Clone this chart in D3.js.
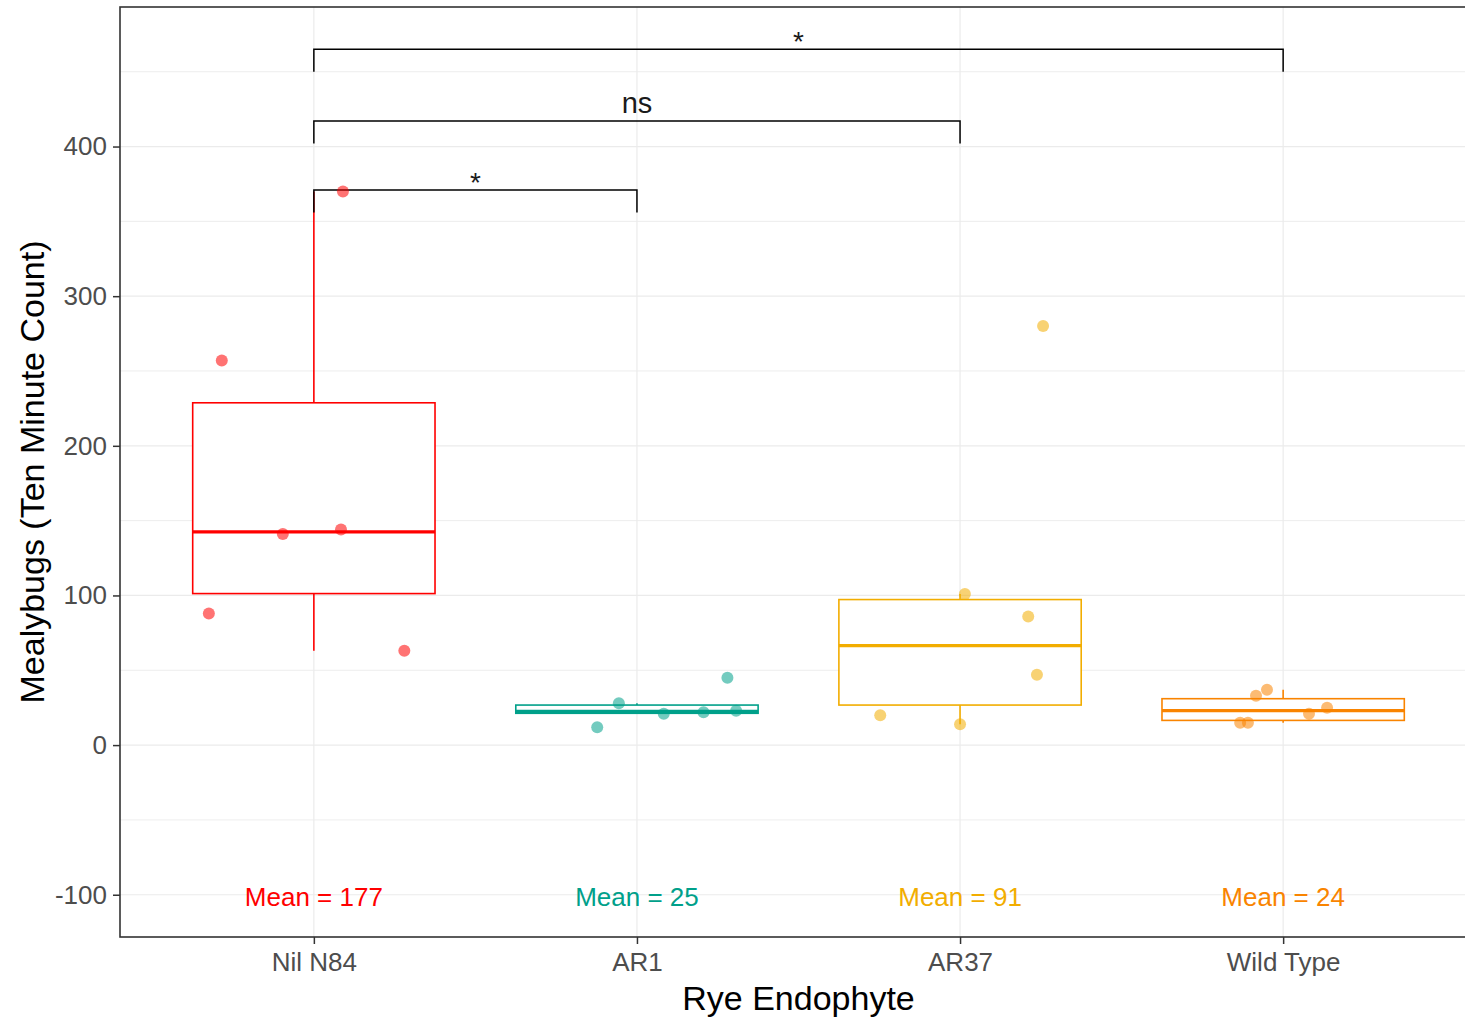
<!DOCTYPE html>
<html>
<head>
<meta charset="utf-8">
<script src="https://cdn.jsdelivr.net/npm/d3@7"></script>
<style>
  body { margin: 0; background: #fff; }
  text { font-family: "Liberation Sans", Arial, sans-serif; }
</style>
</head>
<body>
<div id="chart"></div>
<script>
// groups on the x axis
const categories = ["Nil N84", "AR1", "AR37", "Wild Type"];
const colors = ["#FF0000", "#00A08A", "#F2AD00", "#F98400"];

// counts per plant and their horizontal jitter (in category units)
const nilN84 = [63, 88, 141, 144, 257, 370];
const nilN84Jitter = [0.28, -0.325, -0.096, 0.084, -0.285, 0.09];
const ar1 = [12, 21, 22, 23, 28, 45];
const ar1Jitter = [-0.123, 0.083, 0.206, 0.307, -0.056, 0.28];
const ar37 = [14, 20, 47, 86, 101, 280];
const ar37Jitter = [0.0, -0.247, 0.238, 0.211, 0.015, 0.257];
const wildType = [15, 15, 21, 25, 33, 37];
const wildTypeJitter = [-0.133, -0.109, 0.08, 0.136, -0.084, -0.05];

const yTicks = [-100, 0, 100, 200, 300, 400];
const yMinor = [-50, 50, 150, 250, 350, 450];

// significance brackets
const comparisons = [["Nil N84", "AR1"], ["Nil N84", "AR37"], ["Nil N84", "Wild Type"]];
const bracketY = [371, 417, 465];
const bracketLabels = ["*", "ns", "*"];
const tipLength = 15;
const meanLabelY = -100;

const groups = [nilN84, ar1, ar37, wildType];
const jitters = [nilN84Jitter, ar1Jitter, ar37Jitter, wildTypeJitter];

const width = 1465, height = 1018;
const panel = { left: 120, top: 7, right: 1477, bottom: 937 };

const svg = d3.select("#chart").append("svg")
  .attr("width", width)
  .attr("height", height);

const x = d3.scalePoint()
  .domain(categories)
  .range([panel.left, panel.right])
  .padding(0.6);

const y = d3.scaleLinear()
  .domain([-128.25, 493.25])
  .range([panel.bottom, panel.top]);

const step = x.step();
const boxWidth = step * 0.75;

// grid
const grid = svg.append("g");
grid.selectAll(".minor").data(yMinor).enter().append("line")
  .attr("x1", panel.left).attr("x2", panel.right)
  .attr("y1", d => y(d)).attr("y2", d => y(d))
  .attr("stroke", "#EBEBEB").attr("stroke-width", 0.9);
grid.selectAll(".major").data(yTicks).enter().append("line")
  .attr("x1", panel.left).attr("x2", panel.right)
  .attr("y1", d => y(d)).attr("y2", d => y(d))
  .attr("stroke", "#EBEBEB").attr("stroke-width", 1.2);
grid.selectAll(".vert").data(categories).enter().append("line")
  .attr("x1", d => x(d)).attr("x2", d => x(d))
  .attr("y1", panel.top).attr("y2", panel.bottom)
  .attr("stroke", "#EBEBEB").attr("stroke-width", 1.2);

// boxplot stats
function boxStats(values) {
  const s = values.slice().sort(d3.ascending);
  const q1 = d3.quantileSorted(s, 0.25);
  const med = d3.quantileSorted(s, 0.5);
  const q3 = d3.quantileSorted(s, 0.75);
  const iqr = q3 - q1;
  const lo = d3.min(s.filter(v => v >= q1 - 1.5 * iqr));
  const hi = d3.max(s.filter(v => v <= q3 + 1.5 * iqr));
  return { q1, med, q3, lo, hi };
}

const boxes = svg.append("g");
categories.forEach((cat, i) => {
  const st = boxStats(groups[i]);
  const cx = x(cat);
  const g = boxes.append("g").attr("stroke", colors[i]).attr("fill", "none");
  g.append("line")
    .attr("x1", cx).attr("x2", cx)
    .attr("y1", y(st.q3)).attr("y2", y(st.hi))
    .attr("stroke-width", 1.6);
  g.append("line")
    .attr("x1", cx).attr("x2", cx)
    .attr("y1", y(st.q1)).attr("y2", y(st.lo))
    .attr("stroke-width", 1.6);
  g.append("rect")
    .attr("x", cx - boxWidth / 2)
    .attr("y", y(st.q3))
    .attr("width", boxWidth)
    .attr("height", y(st.q1) - y(st.q3))
    .attr("fill", "#fff")
    .attr("stroke-width", 1.6);
  g.append("line")
    .attr("x1", cx - boxWidth / 2).attr("x2", cx + boxWidth / 2)
    .attr("y1", y(st.med)).attr("y2", y(st.med))
    .attr("stroke-width", 3.2);
});

// brackets
const brackets = svg.append("g");
comparisons.forEach((pair, i) => {
  const x1 = x(pair[0]), x2 = x(pair[1]);
  const yTop = y(bracketY[i]), yTip = y(bracketY[i] - tipLength);
  brackets.append("path")
    .attr("d", `M${x1},${yTip}V${yTop}H${x2}V${yTip}`)
    .attr("fill", "none")
    .attr("stroke", "#000")
    .attr("stroke-width", 1.5);
  const isStar = bracketLabels[i] === "*";
  brackets.append("text")
    .attr("x", (x1 + x2) / 2)
    .attr("y", yTop)
    .attr("dy", isStar ? 2 : -8)
    .attr("text-anchor", "middle")
    .attr("font-size", isStar ? 28 : 29)
    .attr("fill", "#1a1a1a")
    .text(bracketLabels[i]);
});

// jittered points
const pts = svg.append("g");
categories.forEach((cat, i) => {
  pts.selectAll(null).data(groups[i]).enter().append("circle")
    .attr("cx", (d, j) => x(cat) + jitters[i][j] * step)
    .attr("cy", d => y(d))
    .attr("r", 6)
    .attr("fill", colors[i])
    .attr("fill-opacity", 0.55);
});

// mean labels
svg.append("g").selectAll("text").data(categories).enter().append("text")
  .attr("x", d => x(d))
  .attr("y", y(meanLabelY))
  .attr("dy", "0.42em")
  .attr("text-anchor", "middle")
  .attr("font-size", 26)
  .attr("fill", (d, i) => colors[i])
  .text((d, i) => "Mean = " + Math.round(d3.mean(groups[i])));

// axes
const yAxis = svg.append("g")
  .attr("transform", `translate(${panel.left},0)`)
  .call(d3.axisLeft(y).tickValues(yTicks).tickFormat(d => String(d))
    .tickSize(7).tickPadding(6).tickSizeOuter(0));
yAxis.select(".domain").remove();
yAxis.selectAll(".tick line").attr("stroke", "#333").attr("stroke-width", 1.5);
yAxis.selectAll(".tick text").attr("font-size", 26).attr("fill", "#4D4D4D")
  .style("font-family", '"Liberation Sans", Arial, sans-serif');

const xAxis = svg.append("g")
  .attr("transform", `translate(0,${panel.bottom})`)
  .call(d3.axisBottom(x).tickSize(7).tickPadding(9).tickSizeOuter(0));
xAxis.select(".domain").remove();
xAxis.selectAll(".tick line").attr("stroke", "#333").attr("stroke-width", 1.5);
xAxis.selectAll(".tick text").attr("font-size", 26).attr("fill", "#4D4D4D")
  .style("font-family", '"Liberation Sans", Arial, sans-serif');

// panel border
svg.append("rect")
  .attr("x", panel.left).attr("y", panel.top)
  .attr("width", panel.right - panel.left)
  .attr("height", panel.bottom - panel.top)
  .attr("fill", "none")
  .attr("stroke", "#333")
  .attr("stroke-width", 1.6);

// titles
svg.append("text")
  .attr("x", (panel.left + panel.right) / 2)
  .attr("y", 1010)
  .attr("text-anchor", "middle")
  .attr("font-size", 34)
  .attr("fill", "#000")
  .text("Rye Endophyte");

svg.append("text")
  .attr("transform", `translate(44,${(panel.top + panel.bottom) / 2}) rotate(-90)`)
  .attr("text-anchor", "middle")
  .attr("font-size", 34)
  .attr("fill", "#000")
  .text("Mealybugs (Ten Minute Count)");
</script>
</body>
</html>
